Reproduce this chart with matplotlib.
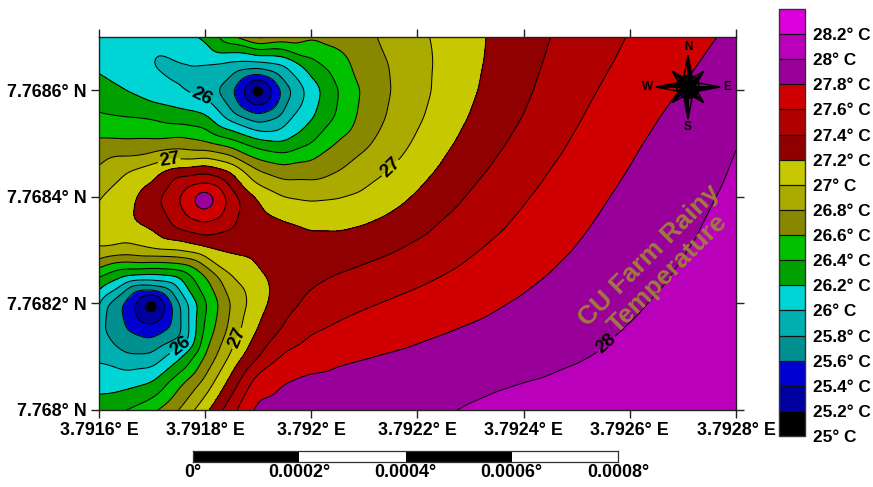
import numpy as np
import matplotlib
matplotlib.use("Agg")
import matplotlib.pyplot as plt
import matplotlib.tri as mtri
from matplotlib.patches import Polygon, Circle, Wedge

plt.rcParams['font.family'] = ['Liberation Sans', 'DejaVu Sans']

lon = np.linspace(3.7916, 3.7928, 25)
lat = np.linspace(7.7680, 7.7687, 15)

row00 = [26.30,26.38,26.53,26.78,27.13,27.55,27.90,27.88,27.87,27.88,27.90,27.93,27.95,27.98,28.02,28.05,28.08,28.08,28.08,28.09,28.10,28.11,28.13,28.15,28.17]
row01 = [26.13,26.13,26.18,26.55,26.86,27.30,27.78,27.83,27.86,27.87,27.89,27.91,27.92,27.94,27.96,27.98,28.00,28.02,28.03,28.04,28.06,28.08,28.09,28.12,28.14]
row02 = [25.96,25.83,25.85,26.15,26.62,27.05,27.40,27.66,27.75,27.79,27.81,27.83,27.85,27.87,27.89,27.91,27.93,27.95,27.98,28.01,28.03,28.05,28.08,28.10,28.12]
row03 = [25.85,25.72,25.44,25.93,26.45,26.88,27.22,27.44,27.58,27.64,27.69,27.72,27.76,27.79,27.82,27.85,27.89,27.92,27.95,27.98,28.01,28.03,28.06,28.08,28.10]
row04 = [26.00,25.65,25.08,25.76,26.37,26.82,27.12,27.33,27.45,27.51,27.58,27.63,27.67,27.71,27.75,27.78,27.83,27.88,27.94,27.97,27.98,28.01,28.04,28.06,28.09]
row05 = [26.40,26.17,26.12,26.18,26.58,27.00,27.16,27.28,27.36,27.41,27.47,27.53,27.56,27.61,27.67,27.72,27.76,27.80,27.86,27.92,27.96,27.99,28.01,28.05,28.07]
row06 = [27.00,26.93,27.00,27.02,27.13,27.23,27.27,27.29,27.30,27.32,27.33,27.37,27.40,27.50,27.57,27.62,27.68,27.74,27.80,27.85,27.92,27.96,27.99,28.03,28.06]
row07 = [27.10,27.16,27.26,27.45,27.60,27.42,27.30,27.22,27.17,27.15,27.18,27.27,27.35,27.45,27.53,27.58,27.64,27.71,27.77,27.82,27.88,27.94,27.98,28.01,28.05]
row08 = [27.00,27.12,27.32,27.60,27.90,27.55,27.17,27.00,26.97,26.99,27.03,27.10,27.19,27.31,27.41,27.50,27.58,27.67,27.75,27.78,27.85,27.90,27.95,27.99,28.03]
row09 = [26.84,26.98,27.10,27.24,27.33,27.17,26.80,26.68,26.69,26.78,26.92,26.99,27.12,27.25,27.36,27.44,27.53,27.60,27.69,27.75,27.79,27.86,27.92,27.98,28.01]
row10 = [26.65,26.64,26.65,26.70,26.63,26.50,26.30,26.23,26.40,26.62,26.75,26.88,27.03,27.16,27.27,27.37,27.45,27.54,27.63,27.72,27.78,27.83,27.90,27.96,28.00]
row11 = [26.42,26.39,26.37,26.30,26.24,25.90,25.65,25.93,26.17,26.43,26.67,26.83,26.95,27.08,27.21,27.31,27.40,27.48,27.58,27.67,27.75,27.79,27.85,27.92,27.98]
row12 = [26.26,26.19,26.02,26.00,25.90,25.60,25.08,25.65,26.09,26.39,26.62,26.78,26.92,27.05,27.16,27.27,27.35,27.46,27.54,27.62,27.70,27.74,27.81,27.88,27.94]
row13 = [26.15,26.10,25.96,25.99,26.00,25.95,25.95,26.02,26.33,26.53,26.67,26.82,26.93,27.03,27.15,27.26,27.35,27.42,27.50,27.57,27.63,27.70,27.75,27.82,27.88]
row14 = [26.12,26.05,26.00,26.10,26.24,26.55,26.85,26.72,26.62,26.65,26.74,26.86,26.96,27.05,27.15,27.24,27.33,27.40,27.47,27.54,27.62,27.67,27.73,27.78,27.84]
rows = [row00,row01,row02,row03,row04,row05,row06,row07,row08,row09,row10,row11,row12,row13,row14]

# closed rings read around the three extremes: level and distance (chart pixels) towards
# E, NE, N, NW, W, SW, S, SE
ring_angles = [0,45,90,135,180,225,270,315]
cold_north_centre = (258, 91, 24.85)
cold_north_rings = [(25.2,[7,7,7,7,7,7,7,7]),
                    (25.4,[16,13,12,14,15,15,16,15]),
                    (25.6,[24,19,17,20,26,24,24,25]),
                    (25.8,[34,26,23,30,41,34,32,35])]
cold_south_centre = (151, 306, 24.85)
cold_south_rings = [(25.2,[7,7,7,7,7,7,7,7]),
                    (25.4,[15,14,13,15,17,20,20,17]),
                    (25.6,[22,19,17,24,30,34,33,29]),
                    (25.8,[30,26,20,29,46,53,48,44])]
hot_centre = (204, 200, 28.00)
hot_rings = [(27.8,[11,10,11,10,11,10,11,10]),
             (27.6,[24,22,17,21,26,24,23,25]),
             (27.4,[36,29,27,38,45,41,36,40])]
replaced_nodes = [(12,6),(12,5),(12,7),(11,6),
                  (4,2),(4,1),(4,3),(3,1),(3,2),(3,3),
                  (8,4),(8,3),(8,5),(7,3),(7,4),(7,5)]

levels = [25.0,25.2,25.4,25.6,25.8,26.0,26.2,26.4,26.6,26.8,27.0,27.2,27.4,27.6,27.8,28.0,28.2,28.4]
labelled_levels = [26.0,27.0,28.0]
plain_levels = [25.2,25.4,25.6,25.8,26.2,26.4,26.6,26.8,27.2,27.4,27.6,27.8]
level_labels = ['25° C','25.2° C','25.4° C','25.6° C','25.8° C','26° C','26.2° C','26.4° C','26.6° C','26.8° C','27° C','27.2° C','27.4° C','27.6° C','27.8° C','28° C','28.2° C']
band_colors = ['#000000','#0000A0','#0000D0','#009090','#00B0B0','#00D4D4','#00A000','#00C000','#888800','#AAAA00','#C8C800','#900000','#B00000','#D00000','#990099','#BB00BB','#DD00DD']

xticks = [3.7916,3.7918,3.7920,3.7922,3.7924,3.7926,3.7928]
xticklabels = ['3.7916° E','3.7918° E','3.792° E','3.7922° E','3.7924° E','3.7926° E','3.7928° E']
yticks = [7.7680,7.7682,7.7684,7.7686]
yticklabels = ['7.768° N','7.7682° N','7.7684° N','7.7686° N']
scale_ticks = [0,0.0002,0.0004,0.0006,0.0008]
scale_labels = ['0°','0.0002°','0.0004°','0.0006°','0.0008°']

W, H = 873, 487
def box(x0, y0, x1, y1):
    return [x0/W, 1-y1/H, (x1-x0)/W, (y1-y0)/H]

def px2d(px, py):
    return (3.7916 + (px-99)/637*0.0012, 7.768 + (410-py)/373*0.0007)

def blur(a, k):
    n = len(k)//2
    p = np.pad(a, n, mode='reflect', reflect_type='odd')
    p = np.apply_along_axis(lambda v: np.convolve(v, k, mode='same'), 0, p)
    p = np.apply_along_axis(lambda v: np.convolve(v, k, mode='same'), 1, p)
    return p[n:-n, n:-n]

# even out reading noise in the smooth parts of the field
Z = np.array(rows)
col_w = np.clip((np.arange(Z.shape[1]) - 6) / 5, 0.3, 1.0)
weight = np.tile(col_w, (Z.shape[0], 1))
for (jc, ic) in [(12,6),(4,2),(8,4)]:
    for j in range(Z.shape[0]):
        for i in range(Z.shape[1]):
            if abs(j-jc) <= 2 and abs(i-ic) <= 3:
                weight[j, i] = 0
Z = Z + weight*(blur(Z, np.array([1,4,6,4,1])/16) - Z)

LON, LAT = np.meshgrid(lon, lat)
keep = np.ones(Z.shape, bool)
for j, i in replaced_nodes:
    keep[j, i] = False
xs, ys, vs = list(LON[keep]), list(LAT[keep]), list(Z[keep])
for centre, ring_set in [(cold_north_centre, cold_north_rings), (cold_south_centre, cold_south_rings), (hot_centre, hot_rings)]:
    cx, cy, cv = centre
    px, py = px2d(cx, cy)
    xs.append(px); ys.append(py); vs.append(cv)
    for lev, radii in ring_set:
        for ang, r in zip(ring_angles, radii):
            qx, qy = px2d(cx + r*np.cos(np.deg2rad(ang)), cy - r*np.sin(np.deg2rad(ang)))
            xs.append(qx); ys.append(qy); vs.append(lev)

tri = mtri.Triangulation(np.array(xs), np.array(ys))
interp = mtri.LinearTriInterpolator(tri, np.array(vs))
fine_lon = np.linspace(lon[0], lon[-1], 301)
fine_lat = np.linspace(lat[0], lat[-1], 177)
FX, FY = np.meshgrid(fine_lon, fine_lat)
fine = np.ma.filled(interp(FX, FY), np.nan)
fine = np.where(np.isnan(fine), np.nanmean(fine), fine)
gauss = np.exp(-0.5*(np.arange(-7, 8)/2.3)**2)
gauss = gauss/gauss.sum()
fine = blur(fine, gauss)

fig = plt.figure(figsize=(W/100, H/100), dpi=100)
ax = fig.add_axes(box(99, 37, 736, 410))

cf = ax.contourf(FX, FY, fine, levels=levels, colors=band_colors)
ax.contour(FX, FY, fine, levels=plain_levels, colors='black', linewidths=0.75)
cl = ax.contour(FX, FY, fine, levels=labelled_levels, colors='black', linewidths=0.75)
ax.set_xlim(lon[0], lon[-1])
ax.set_ylim(lat[0], lat[-1])

lbls = cl.clabel(manual=[px2d(200,100), px2d(178,342), px2d(170,158),
                         px2d(391,168), px2d(237,338), px2d(606,343)],
                 fmt=lambda v: f'{v:.0f}', fontsize=13.5, colors='black', inline=True, inline_spacing=1)
for t in lbls:
    t.set_fontweight('bold')

for side in ax.spines.values():
    side.set_linewidth(1.0)
    side.set_color('#222222')
ax.set_xticks(xticks)
ax.set_xticklabels(xticklabels, fontsize=12.9, fontweight='bold')
ax.set_yticks(yticks)
ax.set_yticklabels(yticklabels, fontsize=12.9, fontweight='bold')
ax.tick_params(axis='both', which='major', direction='out', length=5.8, width=1.0,
               top=True, right=True, pad=3, color='#222222')

ax.text(0.878, 0.39, 'CU Farm Rainy\nTemperature', transform=ax.transAxes, rotation=45,
        ha='center', va='center', rotation_mode='anchor', multialignment='center',
        fontsize=19, fontweight='bold', color='#A07A40', linespacing=1.12)

cax = fig.add_axes(box(778.5, 9, 805, 436))
cbar = fig.colorbar(cf, cax=cax, ticks=levels[:-1], drawedges=True, spacing='uniform')
cbar.ax.set_yticklabels(level_labels, fontsize=12.4, fontweight='bold')
cbar.ax.tick_params(length=0, pad=6)
cbar.outline.set_linewidth(1.0)
cbar.outline.set_edgecolor('#333333')
cbar.dividers.set_linewidth(0.9)
cbar.dividers.set_color('#111111')

sax = fig.add_axes(box(193, 451, 618, 462))
sax.set_xlim(scale_ticks[0], scale_ticks[-1])
sax.set_ylim(0, 1)
for i in range(len(scale_ticks)-1):
    sax.axvspan(scale_ticks[i], scale_ticks[i+1], color='black' if i % 2 == 0 else 'white', lw=0)
sax.set_yticks([])
sax.set_xticks(scale_ticks)
sax.set_xticklabels(scale_labels, fontsize=12.9, fontweight='bold')
sax.tick_params(axis='x', length=0, pad=1.5)
for s in sax.spines.values():
    s.set_linewidth(0.9)
    s.set_color('#333333')

cpx = fig.add_axes(box(640, 40, 736, 134))
cpx.set_xlim(-48, 48)
cpx.set_ylim(-47, 47)
cpx.axis('off')
cpx.patch.set_alpha(0)
def point(angle, r, w, fill_side):
    a = np.deg2rad(angle)
    tip = np.array([np.sin(a), np.cos(a)])*r
    n = np.array([np.cos(a), -np.sin(a)])*w
    cpx.add_patch(Polygon([(0,0), tip, n], closed=True, fc='black' if fill_side else 'none', ec='black', lw=1.1))
    cpx.add_patch(Polygon([(0,0), tip, -n], closed=True, fc='none' if fill_side else 'black', ec='black', lw=1.1))
for ang in (45, 135, 225, 315):
    point(ang, 22, 6, True)
for ang in (0, 90, 180, 270):
    point(ang, 32, 6, True)
cpx.add_patch(Circle((0,0), 11, fc='none', ec='black', lw=1.4))
cpx.add_patch(Wedge((0,0), 11, 90, 180, fc='black', ec='black'))
cpx.add_patch(Wedge((0,0), 11, 270, 360, fc='black', ec='black'))
for t, x, y in [('N',0,40),('S',0,-39.5),('W',-40,0),('E',39,0)]:
    cpx.text(x, y, t, ha='center', va='center', fontsize=8.5, fontweight='bold', color='black')

fig.savefig('out.png', dpi=100)
